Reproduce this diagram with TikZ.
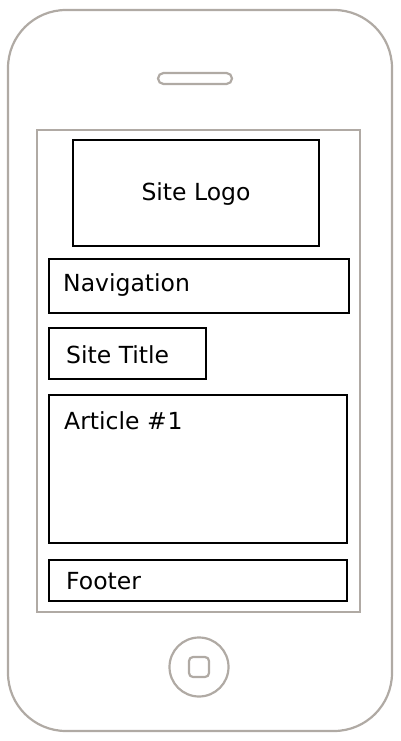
\documentclass[tikz,border=0pt]{standalone}
\usepackage{fontspec}
\setmainfont{DejaVu Sans}
\definecolor{phonegray}{RGB}{176,170,164}
\tikzset{
  phone/.style={draw=phonegray, line width=2.2pt},
  screen/.style={draw=phonegray, line width=1.8pt},
  block/.style={draw=black, line width=2pt},
  lbl/.style={font=\fontsize{23.5}{28}\selectfont, inner sep=0pt, text=black},
}
\begin{document}
\begin{tikzpicture}[x=1pt,y=-1pt]
\useasboundingbox (0,0) rectangle (400,741);
% phone body
\draw[phone, rounded corners=58pt] (8,10) rectangle (392,731);
% speaker
\draw[phone, rounded corners=5.5pt] (158,73) rectangle (232,84);
% screen
\draw[screen] (37,130) rectangle (360,612);
% home button
\draw[phone] (199,667) circle (29.5);
\draw[phone, rounded corners=4pt] (189,657) rectangle (209,677);
% blocks
\draw[block] (73,140) rectangle (319,246);
\node[lbl] (logo) at (196,194) {Site Logo};
\draw[block] (49,259) rectangle (349,313);
\node[lbl, anchor=west] (nav) at (63,285) {Navigation};
\draw[block] (49,328) rectangle (206,379);
\node[lbl, anchor=west] (title) at (66,355) {Site Title};
\draw[block] (49,395) rectangle (347,543);
\node[lbl, anchor=west] (art) at (64,421) {Article \#\kern1pt 1};
\draw[block] (49,560) rectangle (347,601);
\node[lbl, anchor=west] (foot) at (66,581) {Footer};
\end{tikzpicture}
\end{document}
